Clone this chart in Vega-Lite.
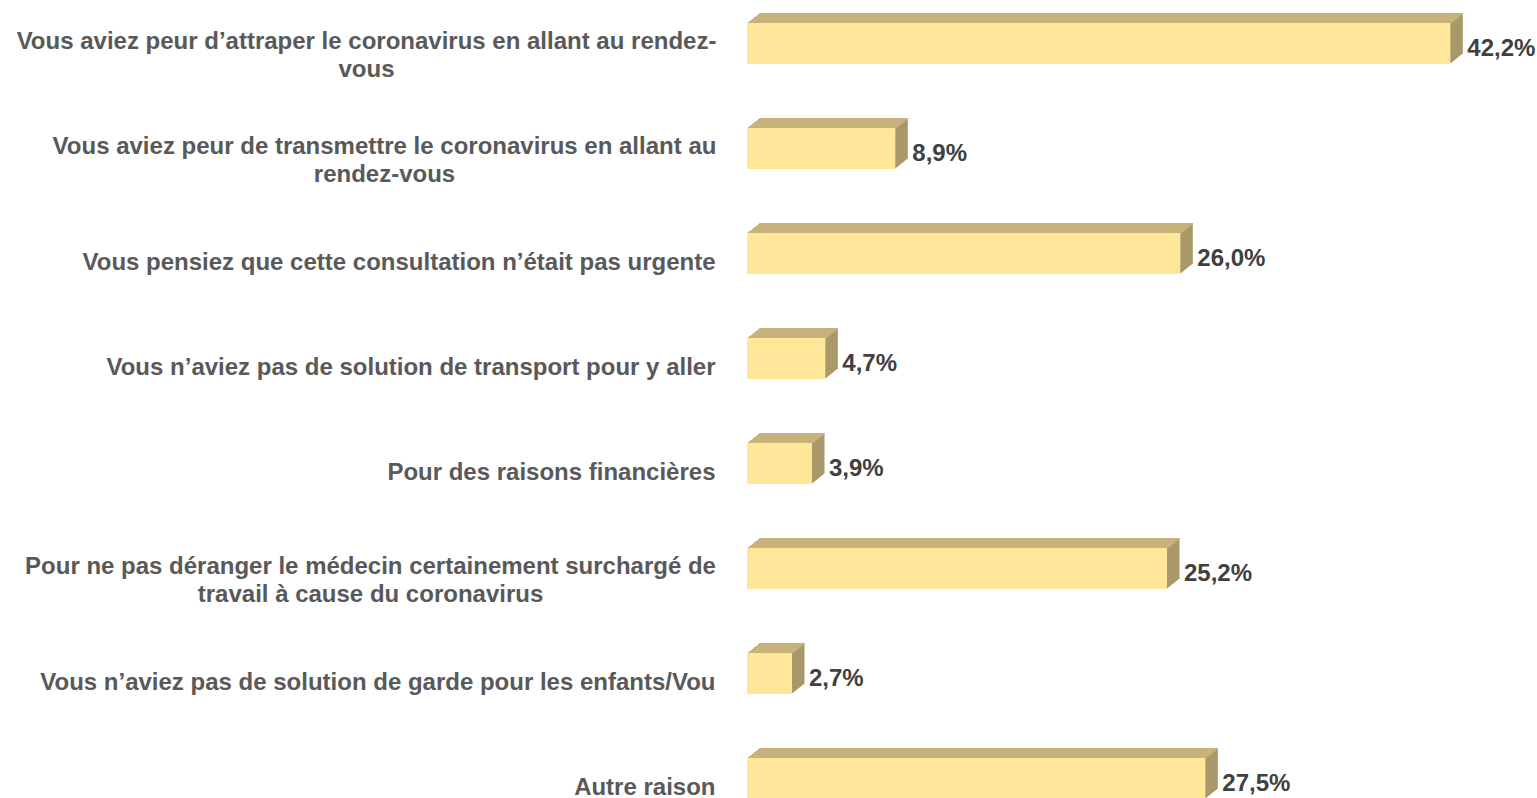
{
  "$schema": "https://vega.github.io/schema/vega-lite/v6.json",
  "autosize": "none",
  "padding": {"left": 747, "top": 0, "right": 0, "bottom": 0},
  "width": 790,
  "height": 798,
  "background": "#ffffff",
  "config": {
    "view": {"stroke": null},
    "locale": {"number": {"decimal": ",", "thousands": " ", "grouping": [3], "currency": ["", " €"]}}
  },
  "data": {
    "values": [
      {"raison": "Vous aviez peur d’attraper le coronavirus en allant au rendez-|vous", "part": 0.422},
      {"raison": "Vous aviez peur de transmettre le coronavirus en allant au|rendez-vous", "part": 0.089},
      {"raison": "Vous pensiez que cette consultation n’était pas urgente", "part": 0.26},
      {"raison": "Vous n’aviez pas de solution de transport pour y aller", "part": 0.047},
      {"raison": "Pour des raisons financières", "part": 0.039},
      {"raison": "Pour ne pas déranger le médecin certainement surchargé de|travail à cause du coronavirus", "part": 0.252},
      {"raison": "Vous n’aviez pas de solution de garde pour les enfants/Vou", "part": 0.027},
      {"raison": "Autre raison", "part": 0.275}
    ]
  },
  "encoding": {
    "y": {
      "field": "raison", "type": "nominal", "sort": null,
      "scale": {"range": [0, 840], "paddingInner": 0, "paddingOuter": 0},
      "axis": {
        "title": null, "domain": false, "ticks": false,
        "labelFont": "Liberation Sans", "labelFontSize": 24, "labelFontWeight": "bold",
        "labelColor": "#595959", "labelLimit": 0, "labelLineHeight": 28,
        "labelBaseline": "middle",
        "labelAlign": {"condition": {"test": "indexof(datum.value, '|') >= 0", "value": "center"}, "value": "right"},
        "labelOffset": {"condition": {"test": "indexof(datum.value, '|') >= 0", "value": -11}, "value": 0},
        "labelPadding": {
          "condition": [
            {"test": "indexof(datum.value, 'attraper') >= 0", "value": 381},
            {"test": "indexof(datum.value, 'transmettre') >= 0", "value": 363},
            {"test": "indexof(datum.value, 'surchargé') >= 0", "value": 377}
          ],
          "value": 32
        },
        "labelExpr": "split(datum.label, '|')"
      }
    },
    "x": {"field": "part", "type": "quantitative", "scale": {"domain": [0, 0.474], "zero": true, "nice": false}, "axis": null}
  },
  "layer": [
    {"mark": {"type": "bar", "size": 41, "color": "#A8986A", "xOffset": 1.25, "x2Offset": 1.25, "yOffset": -10}},
    {"mark": {"type": "bar", "size": 41, "color": "#A8986A", "xOffset": 2.5, "x2Offset": 2.5, "yOffset": -11}},
    {"mark": {"type": "bar", "size": 41, "color": "#A8986A", "xOffset": 3.75, "x2Offset": 3.75, "yOffset": -12}},
    {"mark": {"type": "bar", "size": 41, "color": "#A8986A", "xOffset": 5, "x2Offset": 5, "yOffset": -13}},
    {"mark": {"type": "bar", "size": 41, "color": "#A8986A", "xOffset": 6.25, "x2Offset": 6.25, "yOffset": -14}},
    {"mark": {"type": "bar", "size": 41, "color": "#A8986A", "xOffset": 7.5, "x2Offset": 7.5, "yOffset": -15}},
    {"mark": {"type": "bar", "size": 41, "color": "#A8986A", "xOffset": 8.75, "x2Offset": 8.75, "yOffset": -16}},
    {"mark": {"type": "bar", "size": 41, "color": "#A8986A", "xOffset": 10, "x2Offset": 10, "yOffset": -17}},
    {"mark": {"type": "bar", "size": 41, "color": "#A8986A", "xOffset": 11.25, "x2Offset": 11.25, "yOffset": -18}},
    {"mark": {"type": "bar", "size": 41, "color": "#A8986A", "xOffset": 12.5, "x2Offset": 12.5, "yOffset": -19}},
    {"mark": {"type": "bar", "size": 1.4, "color": "#C6B27B", "xOffset": 1.25, "x2Offset": 1.25, "yOffset": -29.8}},
    {"mark": {"type": "bar", "size": 1.4, "color": "#C6B27B", "xOffset": 2.5, "x2Offset": 2.5, "yOffset": -30.8}},
    {"mark": {"type": "bar", "size": 1.4, "color": "#C6B27B", "xOffset": 3.75, "x2Offset": 3.75, "yOffset": -31.8}},
    {"mark": {"type": "bar", "size": 1.4, "color": "#C6B27B", "xOffset": 5, "x2Offset": 5, "yOffset": -32.8}},
    {"mark": {"type": "bar", "size": 1.4, "color": "#C6B27B", "xOffset": 6.25, "x2Offset": 6.25, "yOffset": -33.8}},
    {"mark": {"type": "bar", "size": 1.4, "color": "#C6B27B", "xOffset": 7.5, "x2Offset": 7.5, "yOffset": -34.8}},
    {"mark": {"type": "bar", "size": 1.4, "color": "#C6B27B", "xOffset": 8.75, "x2Offset": 8.75, "yOffset": -35.8}},
    {"mark": {"type": "bar", "size": 1.4, "color": "#C6B27B", "xOffset": 10, "x2Offset": 10, "yOffset": -36.8}},
    {"mark": {"type": "bar", "size": 1.4, "color": "#C6B27B", "xOffset": 11.25, "x2Offset": 11.25, "yOffset": -37.8}},
    {"mark": {"type": "bar", "size": 1.4, "color": "#C6B27B", "xOffset": 12.5, "x2Offset": 12.5, "yOffset": -38.8}},
    {"mark": {"type": "bar", "size": 41, "color": "#FFE699", "yOffset": -9}},
    {
      "mark": {"type": "text", "align": "left", "baseline": "middle", "dx": 17, "dy": -4,
               "font": "Liberation Sans", "fontSize": 24, "fontWeight": "bold", "color": "#404040"},
      "encoding": {"text": {"field": "part", "type": "quantitative", "format": ".1%"}}
    }
  ]
}
